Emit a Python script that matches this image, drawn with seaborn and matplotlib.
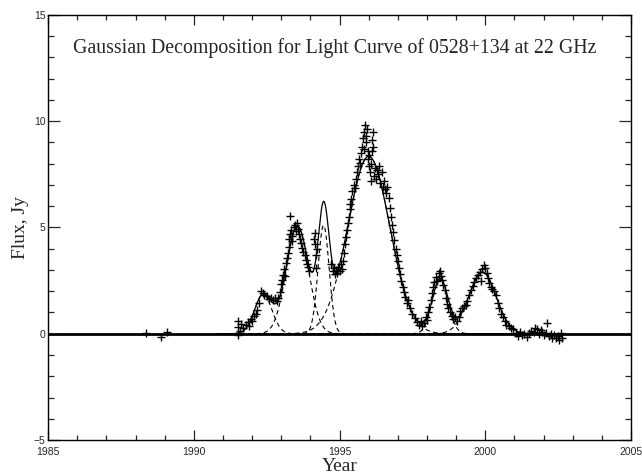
import numpy as np
import pandas as pd
import matplotlib
matplotlib.use("Agg")
import matplotlib.pyplot as plt
import seaborn as sns
from matplotlib.ticker import MultipleLocator

year_obs = [
    1988.36, 1988.87, 1989.08,
    1991.50, 1991.51, 1991.53, 1991.58, 1991.63, 1991.70, 1991.78, 1991.84,
    1991.90, 1991.95, 1992.00, 1992.06, 1992.12, 1992.18, 1992.24, 1992.30,
    1992.36, 1992.42, 1992.50, 1992.58, 1992.65, 1992.72, 1992.78, 1992.84,
    1992.90, 1992.94, 1992.98,
    1993.02, 1993.06, 1993.10, 1993.13, 1993.16, 1993.19, 1993.22, 1993.25,
    1993.27, 1993.29, 1993.31, 1993.33, 1993.35, 1993.38, 1993.42, 1993.46,
    1993.50, 1993.54, 1993.57, 1993.60, 1993.64, 1993.68, 1993.72, 1993.76,
    1993.80, 1993.84, 1993.88, 1993.92, 1993.96,
    1994.12, 1994.14, 1994.16, 1994.18, 1994.20, 1994.22,
    1994.72, 1994.76, 1994.80, 1994.84, 1994.88, 1994.92, 1994.96, 1995.00,
    1995.04, 1995.08, 1995.12, 1995.16, 1995.19, 1995.22, 1995.25, 1995.28,
    1995.31, 1995.34, 1995.37, 1995.40, 1995.44, 1995.48, 1995.52, 1995.56,
    1995.60, 1995.64, 1995.67, 1995.70, 1995.73, 1995.76, 1995.79, 1995.82,
    1995.85, 1995.88, 1995.90, 1995.92, 1995.94, 1995.96, 1995.98, 1996.00,
    1996.02, 1996.04, 1996.06, 1996.08, 1996.10, 1996.12, 1996.14, 1996.16,
    1996.18, 1996.20, 1996.24, 1996.28, 1996.32, 1996.36, 1996.40, 1996.44,
    1996.48, 1996.52, 1996.56, 1996.60, 1996.64, 1996.68, 1996.72, 1996.76,
    1996.80, 1996.84, 1996.88, 1996.92, 1996.96, 1997.00, 1997.04, 1997.08,
    1997.12, 1997.16, 1997.20, 1997.25, 1997.30, 1997.36, 1997.42, 1997.50,
    1997.58, 1997.66, 1997.72, 1997.78, 1997.84, 1997.90, 1997.96,
    1998.00, 1998.04, 1998.08, 1998.12, 1998.16, 1998.20, 1998.25, 1998.30,
    1998.35, 1998.40, 1998.44, 1998.48, 1998.52, 1998.56, 1998.60, 1998.64,
    1998.68, 1998.72, 1998.78, 1998.84, 1998.90, 1998.96,
    1999.02, 1999.08, 1999.14, 1999.20, 1999.26, 1999.32, 1999.38, 1999.44,
    1999.50, 1999.56, 1999.62, 1999.68, 1999.74, 1999.80, 1999.85, 1999.90,
    1999.95, 2000.00, 2000.04, 2000.08, 2000.12, 2000.18, 2000.24, 2000.30,
    2000.36, 2000.42, 2000.48, 2000.54, 2000.60, 2000.66, 2000.72, 2000.80,
    2000.88, 2000.96,
    2001.06, 2001.12, 2001.18, 2001.26, 2001.34, 2001.42, 2001.50, 2001.58,
    2001.66, 2001.72, 2001.78, 2001.84, 2001.90, 2001.96, 2002.02, 2002.08,
    2002.13, 2002.18, 2002.24, 2002.30, 2002.36, 2002.42, 2002.48, 2002.54,
    2002.60, 2002.64,
]
flux_obs = [
    0.02, -0.14, 0.08,
    -0.08, 0.30, 0.62, 0.12, 0.48, 0.28, 0.42, 0.55,
    0.38, 0.70, 0.58, 0.82, 0.95, 1.12, 1.45, 2.02,
    1.90, 1.82, 1.78, 1.62, 1.70, 1.58, 1.66, 1.52,
    1.70, 1.95, 2.35,
    2.55, 2.75, 3.05, 2.70, 3.35, 3.55, 3.80, 4.10,
    4.45, 4.70, 5.55, 4.90, 4.35, 4.60, 5.00, 5.10,
    4.85, 5.20, 4.95, 4.70, 4.45, 4.25, 4.05, 3.85,
    3.70, 3.45, 3.30, 3.15, 2.95,
    4.45, 4.75, 4.20, 3.70, 3.10, 4.00,
    3.30, 2.95, 3.10, 2.80, 3.00, 2.85, 3.15, 2.95,
    3.30, 3.05, 3.40, 3.80, 4.20, 4.55, 4.90, 5.20,
    5.50, 5.85, 6.10, 6.35, 6.70, 7.00, 6.85, 7.30,
    7.60, 7.90, 8.20, 8.05, 8.50, 8.80, 9.20, 8.70,
    9.50, 9.80, 9.30, 9.00, 9.65, 8.60, 8.20, 7.90,
    8.40, 7.60, 7.20, 8.00, 8.60, 9.10, 9.50, 8.80,
    7.40, 7.80, 7.30, 7.70, 7.50, 7.90, 7.10, 7.60,
    6.90, 7.20, 6.80, 6.60, 6.90, 6.40, 5.90, 5.50,
    5.10, 4.80, 4.40, 4.00, 3.70, 3.40, 3.10, 2.80,
    2.50, 2.20, 1.95, 1.75, 1.45, 1.60, 1.20, 0.95,
    0.75, 0.55, 0.40, 0.62, 0.35, 0.50, 0.80,
    0.65, 1.00, 1.25, 1.60, 1.90, 2.20, 2.45, 2.65,
    2.50, 2.85, 2.95, 2.70, 2.55, 2.30, 2.05, 1.70,
    1.40, 1.20, 1.00, 0.85, 0.70, 0.78,
    0.62, 0.80, 1.05, 1.20, 1.30, 1.35, 1.55, 1.80,
    2.05, 2.25, 2.45, 2.60, 2.75, 2.90, 2.50, 3.05,
    3.25, 3.10, 2.85, 2.60, 2.40, 2.20, 2.10, 2.00,
    1.80, 1.45, 1.20, 0.95, 0.80, 0.60, 0.42, 0.35,
    0.25, 0.20,
    0.05, -0.10, 0.10, -0.05, 0.00, -0.15, 0.05, 0.15,
    0.10, 0.25, 0.20, 0.00, 0.18, 0.10, -0.05, 0.05,
    0.52, -0.10, 0.00, -0.20, -0.05, -0.22, -0.12, -0.28,
    0.05, -0.18,
]

# gaussian components: epoch of peak, peak flux (Jy), width (yr)
comp_center = [1992.38, 1993.55, 1994.45, 1996.00, 1998.45, 1999.90]
comp_amp = [1.85, 5.05, 5.10, 8.35, 2.55, 2.90]
comp_width = [0.30, 0.38, 0.19, 0.72, 0.27, 0.47]

sns.set_style("ticks")
plt.rcParams["font.family"] = ["Liberation Serif", "DejaVu Serif"]

fig = plt.figure(figsize=(6.42, 4.76), dpi=100)
ax = fig.add_axes([0.075, 0.0756, 0.908, 0.893])

ax.axhline(0, color="black", lw=2.0, zorder=1)

t = np.linspace(1990.8, 2002.7, 1200)
total = np.zeros_like(t)
for c, a, w in zip(comp_center, comp_amp, comp_width):
    g = a * np.exp(-(t - c) ** 2 / (2 * w ** 2))
    total += g
    sns.lineplot(x=t, y=g, ax=ax, color="black", lw=0.8,
                 linestyle=(0, (4, 3)), estimator=None, sort=False)

sns.lineplot(x=t, y=total, ax=ax, color="black", lw=0.9,
             estimator=None, sort=False)

obs = pd.DataFrame({"year": year_obs, "flux": flux_obs})
sns.scatterplot(data=obs, x="year", y="flux", ax=ax, marker="+", s=30,
                color="black", linewidth=1.0, zorder=3)

ax.set_xlim(1985, 2005)
ax.set_ylim(-5, 15)
ax.xaxis.set_major_locator(MultipleLocator(5))
ax.xaxis.set_minor_locator(MultipleLocator(1))
ax.yaxis.set_major_locator(MultipleLocator(5))
ax.yaxis.set_minor_locator(MultipleLocator(1))
ax.tick_params(axis="x", which="major", direction="in", length=7, width=0.9,
               top=True, pad=5)
ax.tick_params(axis="x", which="minor", direction="in", length=3.5, width=0.9,
               top=True)
ax.tick_params(axis="y", which="major", direction="in", length=8.5, width=0.9,
               right=True, pad=2)
ax.tick_params(axis="y", which="minor", direction="in", length=4, width=0.9,
               right=True)
for lab in ax.get_xticklabels() + ax.get_yticklabels():
    lab.set_fontfamily("Liberation Sans")
    lab.set_fontsize(7.5)
for sp in ax.spines.values():
    sp.set_linewidth(1.0)
    sp.set_color("black")

ax.set_xlabel("Year", fontsize=14, labelpad=1)
ax.set_ylabel("Flux, Jy", fontsize=14, labelpad=3)
ax.text(1985.85, 13.45, "Gaussian Decomposition for Light Curve of 0528+134 at 22 GHz",
        fontsize=14.3, ha="left", va="center")

fig.savefig("out.png", dpi=100)
